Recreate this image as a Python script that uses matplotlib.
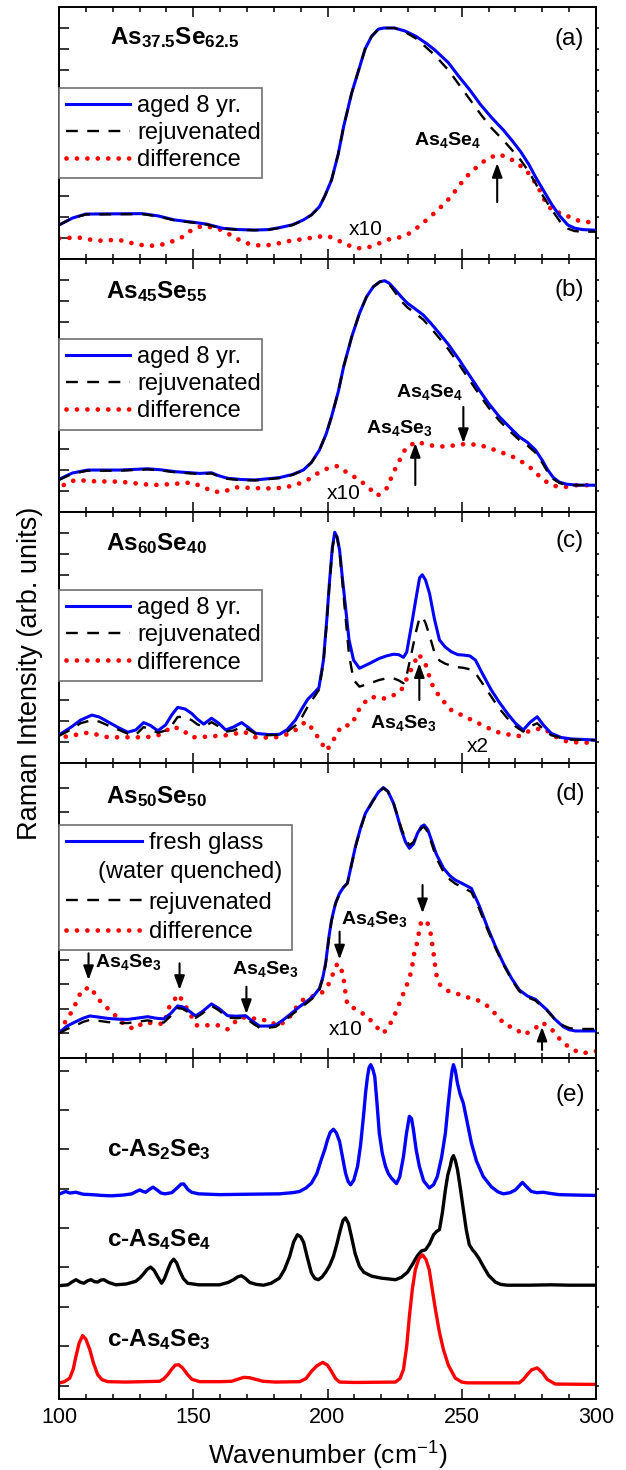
import matplotlib
matplotlib.use('Agg')
import matplotlib.pyplot as plt
from matplotlib.lines import Line2D
from matplotlib.ticker import MultipleLocator

plt.rcParams['font.family'] = ['Liberation Sans', 'DejaVu Sans']
plt.rcParams['mathtext.fontset'] = 'custom'
plt.rcParams['mathtext.rm'] = 'Liberation Sans'
plt.rcParams['mathtext.it'] = 'Liberation Sans:italic'
plt.rcParams['mathtext.bf'] = 'Liberation Sans:bold'

# ---------------- panel (a) As37.5Se62.5 ----------------
wn_a = [100, 105, 110, 120, 131, 137, 143, 150, 155, 161, 167, 173, 178, 182, 187, 191, 194, 197,
        199, 201.5, 204, 206, 209, 212, 214, 216.4, 219, 221, 225, 229, 233, 237, 240, 245, 249,
        253, 257, 261, 265.5, 269, 272, 275, 277.5, 280.5, 283.5, 286.5, 289.5, 292, 295, 300]
aged_a = [1.62, 1.95, 2.14, 2.15, 2.16, 2.05, 1.86, 1.75, 1.66, 1.46, 1.40, 1.38, 1.40, 1.49, 1.63,
          1.86, 2.10, 2.49, 3.00, 3.76, 5.00, 6.30, 7.90, 9.16, 10.0, 10.6, 10.95, 11.0, 11.0, 10.85,
          10.6, 10.25, 9.95, 9.35, 8.68, 8.05, 7.35, 6.75, 6.14, 5.60, 5.10, 4.50, 3.90, 3.25, 2.60,
          2.05, 1.62, 1.47, 1.40, 1.37]
rejuv_a = [1.62, 1.95, 2.12, 2.13, 2.14, 2.03, 1.84, 1.73, 1.64, 1.45, 1.39, 1.37, 1.39, 1.48, 1.62,
           1.85, 2.09, 2.48, 3.00, 3.76, 5.00, 6.30, 7.90, 9.16, 10.0, 10.6, 10.95, 11.0, 11.0, 10.8,
           10.5, 10.05, 9.70, 9.00, 8.30, 7.60, 6.90, 6.25, 5.65, 5.15, 4.70, 4.15, 3.60, 2.95, 2.35,
           1.80, 1.45, 1.33, 1.30, 1.30]
wn_diff_a = [100, 107, 110.7, 114.9, 118.2, 122.6, 126.3, 130.4, 134.2, 137.9, 142, 145.7, 149.4,
             153.1, 156.8, 160.6, 165, 168.8, 172.5, 176.2, 180.7, 184.4, 188.1, 192.6, 196.3, 200,
             203.7, 207.4, 211.1, 214.9, 219.3, 223, 226.8, 230.5, 234.2, 238, 241.7, 245.4, 248.4,
             251.3, 255.1, 258.8, 263.2, 266.9, 270.7, 274.4, 278.1, 281.1, 284.1, 287.8, 291.5,
             295.2, 299.7]
diff_a = [0.98, 1.03, 0.94, 0.87, 0.90, 0.90, 0.78, 0.67, 0.63, 0.67, 0.83, 1.03, 1.38, 1.57, 1.51,
          1.38, 1.06, 0.79, 0.67, 0.63, 0.71, 0.83, 0.90, 0.98, 1.06, 1.10, 0.90, 0.67, 0.51, 0.54,
          0.75, 0.94, 1.03, 1.22, 1.57, 1.98, 2.41, 2.89, 3.37, 3.87, 4.32, 4.71, 4.98, 4.87, 4.56,
          4.16, 3.52, 2.73, 2.25, 2.17, 1.89, 1.78, 1.73]

# ---------------- panel (b) As45Se55 ----------------
wn_b = [100, 105, 110.7, 122.6, 133, 138, 143.5, 152.4, 156.8, 159.5, 162.8, 168, 173.2, 182.1, 187,
        191, 194, 197, 199.5, 201.5, 204, 206, 209, 211.9, 214.5, 217.1, 219.5, 221.3, 223, 225.3,
        227.5, 229.8, 232.5, 235.7, 238.5, 241.7, 245, 249.1, 252.5, 256.5, 260, 264, 268, 271.4,
        274.5, 277.4, 280, 282, 284, 286.3, 289, 292.3, 299.7]
aged_b = [1.55, 1.85, 1.99, 1.99, 2.05, 2.00, 1.91, 1.83, 1.86, 1.72, 1.60, 1.54, 1.52, 1.63, 1.78,
          1.99, 2.35, 2.94, 3.70, 4.52, 5.70, 6.89, 8.30, 9.42, 10.2, 10.69, 10.92, 10.97, 10.85,
          10.53, 10.2, 9.90, 9.65, 9.34, 8.95, 8.47, 7.95, 7.21, 6.55, 5.79, 5.15, 4.52, 4.00, 3.57,
          3.30, 2.95, 2.45, 2.00, 1.65, 1.42, 1.32, 1.28, 1.27]
rejuv_b = [1.52, 1.82, 1.96, 1.96, 2.02, 1.97, 1.88, 1.80, 1.83, 1.69, 1.57, 1.51, 1.50, 1.61, 1.76,
           1.98, 2.34, 2.94, 3.70, 4.52, 5.70, 6.89, 8.30, 9.42, 10.2, 10.69, 10.92, 10.97, 10.80,
           10.40, 10.0, 9.70, 9.45, 9.12, 8.72, 8.24, 7.72, 6.98, 6.33, 5.58, 4.95, 4.33, 3.82, 3.42,
           3.15, 2.82, 2.33, 1.90, 1.57, 1.38, 1.28, 1.27, 1.27]
wn_diff_b = [101.8, 104, 107, 111, 115, 122.6, 127, 134.5, 139, 145.7, 149.4, 153.9, 157.6, 161.3,
             165.8, 170, 176, 180.7, 184.5, 188.1, 192.6, 196.5, 200, 203.7, 207.4, 211.9, 215.6,
             218.6, 222, 225.3, 229.1, 233.2, 237.2, 241, 244.6, 249.1, 252.5, 256.5, 260, 264, 268,
             271.4, 275.9, 280.4, 284, 287.8, 292.3, 299.7]
diff_b = [1.28, 1.45, 1.52, 1.47, 1.45, 1.44, 1.38, 1.28, 1.30, 1.36, 1.40, 1.17, 0.96, 0.96, 1.17,
          1.15, 1.12, 1.12, 1.18, 1.28, 1.52, 1.85, 2.07, 2.18, 1.86, 1.52, 1.12, 0.77, 1.12, 2.07,
          3.02, 3.34, 3.18, 3.12, 3.10, 3.21, 3.22, 3.18, 3.05, 2.86, 2.68, 2.47, 2.07, 1.52, 1.25,
          1.17, 1.27, 1.27]

# ---------------- panel (c) As60Se40 ----------------
wn_c = [100, 104.8, 108, 112.2, 115, 118.2, 122, 125.6, 128.6, 131.5, 134, 136.8, 139.7, 142, 144.2,
        147, 149.4, 151.5, 153.9, 156.8, 159.5, 162.1, 165, 168, 170.5, 173.2, 178, 182.1, 185,
        188.1, 190.5, 192.6, 195, 196.8, 198.5, 199.7, 200.7, 201.8, 202.7, 203.6, 204.5, 205.5,
        206.7, 208, 209.7, 211.9, 215.5, 219.3, 222, 224.6, 226.5, 228.3, 229.5, 231.2, 233, 234.3,
        235.3, 236.5, 238, 239.8, 241.7, 243.8, 246.1, 248.5, 250.6, 253, 255.1, 258, 261, 264, 267,
        270, 272.9, 275.5, 278.1, 280.5, 283.3, 287, 290.8, 299.7]
aged_c = [1.34, 1.74, 2.05, 2.29, 2.20, 1.97, 1.70, 1.47, 1.58, 1.93, 1.80, 1.54, 1.82, 2.30, 2.66,
          2.58, 2.37, 2.10, 1.86, 2.14, 1.90, 1.58, 1.72, 1.93, 1.70, 1.42, 1.36, 1.37, 1.60, 2.06,
          2.60, 3.04, 3.35, 3.60, 4.92, 6.80, 8.59, 10.3, 11.03, 10.8, 10.18, 8.90, 7.47, 5.90, 4.92,
          4.53, 4.75, 5.00, 5.12, 5.20, 5.18, 5.05, 5.30, 6.52, 7.90, 8.85, 9.00, 8.75, 8.11, 6.90,
          5.88, 5.55, 5.32, 5.18, 5.16, 5.12, 4.92, 4.20, 3.49, 2.90, 2.37, 1.90, 1.58, 1.95, 2.21,
          1.80, 1.42, 1.22, 1.15, 1.10]
rejuv_c = [1.30, 1.62, 1.90, 2.05, 1.98, 1.80, 1.60, 1.40, 1.35, 1.72, 1.60, 1.45, 1.55, 1.80, 2.20,
           2.20, 2.05, 1.85, 1.72, 1.95, 1.75, 1.50, 1.55, 1.72, 1.60, 1.40, 1.33, 1.35, 1.50, 1.80,
           2.20, 2.69, 3.15, 3.50, 4.80, 6.70, 8.50, 10.2, 10.98, 10.75, 10.1, 8.70, 7.00, 5.20, 3.97,
           3.65, 3.80, 3.97, 4.05, 4.05, 3.95, 3.81, 4.20, 5.20, 6.30, 6.95, 7.00, 6.70, 6.10, 5.30,
           4.90, 4.75, 4.65, 4.58, 4.55, 4.48, 4.30, 3.75, 3.17, 2.60, 2.14, 1.75, 1.50, 1.75, 1.90,
           1.60, 1.33, 1.20, 1.12, 1.08]
wn_diff_c = [102.5, 106.5, 110.7, 114.5, 118.2, 122, 126, 130.1, 134, 138.2, 142, 145.7, 149.4, 153,
             157, 161.3, 165, 168.8, 173.2, 177, 180.7, 184.5, 188.1, 191.8, 194.8, 197, 199.7, 202.2,
             205.2, 208.9, 212.6, 216.4, 220.1, 223.8, 227.5, 230.5, 233.9, 236.4, 238.7, 241.7,
             246.1, 250.6, 255.1, 258.8, 262.5, 267, 271.4, 275.9, 280.4, 284.9, 289.3, 294, 299]
diff_c = [1.26, 1.35, 1.45, 1.35, 1.23, 1.23, 1.23, 1.23, 1.25, 1.37, 1.74, 1.61, 1.23, 1.24, 1.28,
          1.31, 1.38, 1.50, 1.23, 1.22, 1.23, 1.35, 1.58, 1.97, 1.58, 1.10, 0.59, 1.10, 1.77, 1.82,
          2.77, 3.17, 3.06, 3.17, 3.49, 4.29, 5.21, 4.77, 3.81, 3.17, 2.53, 2.25, 1.97, 1.74, 1.50,
          1.37, 1.29, 1.58, 1.66, 1.26, 1.02, 0.98, 0.97]

# ---------------- panel (d) As50Se50 ----------------
wn_d = [100, 103, 106.3, 109, 111.5, 115, 118.2, 122, 125.6, 129, 133, 136, 139, 141.5, 144.2, 146,
        147.9, 150.9, 153.5, 156.8, 159.5, 162.8, 166, 169.5, 172, 174.7, 178, 180.7, 183.5, 186.6,
        189.5, 192.6, 195, 197, 198.3, 199.3, 200.5, 201.5, 203, 204.5, 206, 207.4, 209, 210.4,
        212.3, 214.1, 217.1, 219, 220.8, 222.5, 224.6, 226, 227.5, 229, 230.5, 232, 233.5, 235, 236,
        237.3, 238.7, 240.5, 243.2, 245.5, 247.6, 250.5, 253.6, 256.5, 259.5, 262.5, 265.5, 268.5,
        271.4, 274.5, 277.4, 279.8, 281.8, 284.5, 287.8, 290, 292.3, 299.7]
fresh_d = [1.02, 1.30, 1.48, 1.62, 1.71, 1.66, 1.61, 1.58, 1.57, 1.62, 1.68, 1.62, 1.59, 1.80, 2.12,
           2.08, 1.96, 1.71, 1.90, 2.20, 2.02, 1.72, 1.70, 1.72, 1.50, 1.30, 1.30, 1.34, 1.55, 1.82,
           2.08, 2.33, 2.55, 2.83, 3.30, 3.85, 4.90, 5.61, 6.30, 6.70, 6.95, 7.11, 7.90, 8.60, 9.35,
           9.95, 10.5, 10.82, 11.0, 10.85, 10.36, 9.85, 9.27, 8.80, 8.53, 8.70, 9.14, 9.42, 9.48, 9.30,
           8.87, 8.30, 7.72, 7.42, 7.24, 7.08, 6.90, 6.20, 5.34, 4.55, 3.85, 3.25, 2.77, 2.52, 2.39,
           2.15, 1.95, 1.60, 1.27, 1.15, 1.10, 1.10]
rejuv_d = [1.00, 1.18, 1.33, 1.47, 1.55, 1.51, 1.46, 1.43, 1.42, 1.47, 1.53, 1.47, 1.44, 1.70, 2.03,
           2.00, 1.88, 1.63, 1.82, 2.12, 1.94, 1.64, 1.62, 1.64, 1.42, 1.23, 1.23, 1.27, 1.48, 1.75,
           2.00, 2.26, 2.48, 2.78, 3.25, 3.80, 4.85, 5.58, 6.28, 6.68, 6.93, 7.10, 7.88, 8.58, 9.33,
           9.93, 10.48, 10.8, 10.98, 10.83, 10.36, 9.88, 9.35, 8.92, 8.66, 8.78, 9.10, 9.35, 9.40,
           9.20, 8.75, 8.15, 7.57, 7.27, 7.09, 6.93, 6.75, 6.07, 5.25, 4.48, 3.80, 3.20, 2.72, 2.47,
           2.34, 2.10, 1.92, 1.60, 1.32, 1.22, 1.18, 1.18]
wn_diff_d = [100.6, 102.5, 105, 108.5, 111.9, 114.1, 117.4, 120.8, 124.1, 127.8, 131.5, 135, 139,
             141.2, 144.5, 147.2, 151.3, 155, 159.1, 162.8, 166.8, 170.4, 174.4, 178, 181.4, 185.1,
             188.1, 191.1, 194.8, 197.8, 200.4, 203.7, 205.7, 206.5, 207.4, 211.2, 214.9, 217.9,
             220.8, 223.1, 225.3, 226.8, 229.8, 231.2, 232.4, 233.5, 234.2, 235, 237.2, 238.4, 239.5,
             240.5, 241.7, 244.6, 248.4, 252.1, 255.8, 259.5, 263.2, 266.2, 269.9, 272.9, 276.6, 280,
             284.1, 287, 290.8, 294.5, 298.2, 300]
diff_d = [1.07, 1.52, 1.92, 2.77, 2.88, 2.45, 2.09, 1.75, 1.38, 1.18, 1.44, 1.42, 1.38, 2.12, 2.59,
          2.09, 1.33, 1.33, 1.33, 1.17, 1.60, 1.68, 1.54, 1.54, 1.30, 1.54, 2.02, 2.39, 2.52, 2.64,
          3.00, 3.85, 3.47, 2.80, 2.16, 1.95, 1.68, 1.30, 1.00, 1.34, 1.82, 2.23, 3.04, 3.51, 4.33,
          4.73, 5.21, 5.59, 5.51, 5.07, 4.26, 3.41, 3.00, 2.74, 2.61, 2.47, 2.36, 2.12, 1.72, 1.34,
          1.21, 0.94, 1.14, 1.45, 1.10, 0.70, 0.37, 0.19, 0.24, 0.28]

# ---------------- panel (e) crystals ----------------
wn_as2se3 = [100.3, 102.5, 104, 106.3, 109, 112.2, 116, 119.6, 124, 127.1, 128.8, 130.1, 131.3, 132.3,
             133.6, 135, 136.5, 138, 139.5, 142, 144, 145.5, 146.5, 148, 149.4, 152, 159.8, 170, 182.1,
             187, 189.6, 192, 194, 196, 197.5, 199, 200, 201, 202.2, 203.3, 204.5, 205.6, 206.7, 207.7,
             208.6, 209.8, 211.2, 212.3, 213.4, 214.2, 214.9, 215.5, 216.1, 216.8, 217.6, 218.4, 219.3,
             220.4, 221.6, 222.7, 223.8, 225.7, 226.9, 228.3, 229.4, 230.5, 231.3, 232, 233, 234.2,
             235.8, 237.9, 239.5, 240.9, 242.5, 243.9, 244.9, 245.8, 246.4, 246.9, 247.6, 248.4, 249.4,
             250.6, 252, 253.6, 255.5, 258, 261, 263.5, 265.5, 268, 270, 271.5, 272.6, 274, 275.9, 278,
             280.4, 283, 286.3, 292, 299.7]
as2se3 = [4.87, 4.93, 4.89, 4.91, 4.86, 4.85, 4.83, 4.82, 4.84, 4.87, 4.93, 4.97, 4.93, 4.91, 4.98,
          5.04, 4.97, 4.89, 4.87, 4.90, 5.02, 5.12, 5.12, 4.98, 4.91, 4.87, 4.85, 4.86, 4.87, 4.90,
          4.93, 5.02, 5.14, 5.38, 5.70, 6.00, 6.24, 6.43, 6.51, 6.42, 6.20, 5.80, 5.40, 5.18, 5.10,
          5.22, 5.57, 6.10, 6.84, 7.45, 7.85, 8.08, 8.15, 8.05, 7.85, 7.20, 6.41, 5.90, 5.57, 5.38,
          5.27, 5.13, 5.30, 5.82, 6.40, 6.84, 6.78, 6.50, 6.00, 5.57, 5.20, 5.02, 5.10, 5.31, 5.80,
          6.41, 7.10, 7.68, 8.00, 8.15, 8.00, 7.68, 7.40, 7.17, 6.70, 6.16, 5.70, 5.31, 5.05, 4.92,
          4.87, 4.90, 4.97, 5.08, 5.16, 5.06, 4.93, 4.90, 4.91, 4.88, 4.85, 4.84, 4.83]
wn_as4se4 = [100.3, 102, 103.3, 104.8, 106.3, 107.8, 109.2, 110.6, 111.9, 113.2, 114.4, 115.6, 116.7,
             118.5, 121.1, 125, 128.6, 130.2, 131.5, 132.8, 134.1, 135.4, 136.8, 138.2, 139.3, 140.5,
             141.6, 142.7, 143.8, 144.9, 146.3, 147.9, 152, 159.8, 163, 165, 166.5, 167.9, 169.5, 171,
             173.5, 176.2, 179, 182.1, 184, 185.9, 187.4, 188.8, 190, 191.1, 192.5, 194, 195.3, 196.6,
             198, 199.3, 200.8, 202.2, 203.5, 204.8, 205.8, 206.7, 207.8, 208.9, 210.3, 211.9, 213.5,
             216.4, 220, 225.3, 227.5, 229.8, 231.8, 233.5, 235, 236.5, 238, 239.5, 240.7, 241.7,
             242.8, 243.9, 244.8, 245.7, 246.3, 246.9, 247.6, 248.4, 249.5, 250.6, 251.7, 252.8, 254,
             255.1, 256.5, 258, 260, 262.5, 264.5, 267, 275, 283.3, 290, 299.7]
as4se4 = [2.54, 2.55, 2.56, 2.63, 2.69, 2.63, 2.60, 2.66, 2.69, 2.64, 2.63, 2.68, 2.69, 2.62, 2.56,
          2.58, 2.65, 2.74, 2.84, 2.95, 3.01, 2.93, 2.76, 2.60, 2.72, 2.94, 3.12, 3.21, 3.12, 2.92,
          2.72, 2.60, 2.56, 2.56, 2.62, 2.69, 2.76, 2.79, 2.72, 2.62, 2.57, 2.55, 2.60, 2.73, 2.95,
          3.28, 3.65, 3.83, 3.78, 3.64, 3.25, 2.86, 2.72, 2.69, 2.76, 2.88, 3.05, 3.28, 3.60, 3.96,
          4.20, 4.26, 4.12, 3.79, 3.35, 3.03, 2.88, 2.78, 2.73, 2.69, 2.75, 2.88, 3.10, 3.30, 3.42,
          3.45, 3.60, 3.83, 3.92, 3.96, 4.40, 4.97, 5.35, 5.57, 5.76, 5.84, 5.72, 5.49, 5.00, 4.47,
          3.95, 3.58, 3.45, 3.36, 3.22, 3.03, 2.80, 2.63, 2.57, 2.55, 2.55, 2.56, 2.55, 2.55]
wn_as4se3 = [100.3, 102, 104, 105.3, 106.3, 107.5, 108.8, 110, 111.5, 112.8, 114.4, 116, 118.2, 125,
             137.5, 139, 140.5, 142, 143.3, 144.6, 146, 147.9, 149.5, 152.4, 160, 164.3, 166.5, 168.8,
             171, 173.2, 176, 180.7, 189.6, 192, 194, 196, 198.2, 200, 201.5, 203, 204.5, 210, 225.3,
             227, 228.3, 229.5, 230.5, 231.6, 232.7, 234, 235.4, 236.7, 237.9, 239, 240.2, 241.7,
             243.2, 245, 247.6, 250, 252.1, 271.4, 273, 274.4, 276, 278.1, 280, 281.8, 284.8, 299.7]
as4se3 = [0.07, 0.10, 0.19, 0.42, 0.74, 1.08, 1.27, 1.18, 0.91, 0.58, 0.28, 0.15, 0.10, 0.09, 0.11,
          0.17, 0.28, 0.42, 0.52, 0.53, 0.45, 0.28, 0.16, 0.10, 0.10, 0.11, 0.16, 0.21, 0.20, 0.16,
          0.11, 0.09, 0.10, 0.18, 0.36, 0.50, 0.59, 0.52, 0.36, 0.18, 0.09, 0.08, 0.09, 0.18, 0.41,
          1.00, 1.76, 2.45, 2.94, 3.22, 3.32, 3.20, 2.94, 2.45, 1.93, 1.35, 0.91, 0.52, 0.19, 0.09,
          0.07, 0.07, 0.16, 0.28, 0.40, 0.45, 0.33, 0.16, 0.04, 0.03]

legend_labels = ['aged 8 yr.', 'rejuvenated', 'difference']
legend_labels_d = ['fresh glass', ' ', 'rejuvenated', 'difference']

BLUE = '#0000ff'
RED = '#ff0000'
DASH = (0, (5, 4))
DOT = (0, (0.01, 2.2))


def style_axis(ax, yticks, ylim, bottom_labels=False):
    ax.set_xlim(100, 300)
    ax.set_ylim(*ylim)
    ax.set_xticks([100, 150, 200, 250, 300])
    ax.xaxis.set_minor_locator(MultipleLocator(10))
    ax.set_yticks(yticks)
    ax.tick_params(axis='x', which='major', direction='in', length=7, width=1.1,
                   top=True, bottom=True, labelbottom=bottom_labels, labelsize=15.5, pad=6)
    ax.tick_params(axis='x', which='minor', direction='in', length=3.5, width=1.1,
                   top=True, bottom=True)
    ax.tick_params(axis='y', which='major', direction='in', length=7, width=1.1,
                   left=True, right=False, labelleft=False)
    sec = ax.secondary_yaxis('right')
    sec.set_yticks(yticks)
    sec.tick_params(direction='out', length=2.5, width=1.1, labelright=False)
    sec.spines['right'].set_linewidth(1.4)
    for sp in ax.spines.values():
        sp.set_linewidth(1.4)


def glass_panel(ax, wn, top, bottom, wn_diff, diff, labels, leg_top, leg_width,
                handlelength=2.7, labelspacing=0.22):
    ax.plot(wn, top, color=BLUE, lw=2.2, zorder=3)
    ax.plot(wn, bottom, color='k', lw=1.7, ls=DASH, zorder=4)
    ax.plot(wn_diff, diff, color=RED, lw=3.4, ls=DOT, dash_capstyle='round', zorder=2)
    handles = [Line2D([], [], color=BLUE, lw=2.2),
               Line2D([], [], color='k', lw=1.7, ls=DASH),
               Line2D([], [], color=RED, lw=3.4, ls=DOT, dash_capstyle='round')]
    if len(labels) == 4:
        handles.insert(1, Line2D([], [], color='none'))
    leg = ax.legend(handles, labels, loc='upper left', bbox_to_anchor=(0, leg_top, leg_width, 0),
                    mode='expand', borderaxespad=0, fontsize=17, handlelength=handlelength,
                    handletextpad=0.3, borderpad=0.3, labelspacing=labelspacing,
                    fancybox=False, framealpha=1, edgecolor='#707070')
    leg.get_frame().set_linewidth(1.2)
    return leg


def arrow(ax, x, y_tail, y_tip):
    ax.annotate('', xy=(x, y_tip), xytext=(x, y_tail),
                arrowprops=dict(arrowstyle='-|>,head_length=0.6,head_width=0.22', color='k',
                                lw=1.5, mutation_scale=14, shrinkA=0, shrinkB=0))


def note(ax, x, y, s, size=14):
    ax.text(x, y, s, fontsize=size, ha='left', va='baseline')


fig = plt.figure(figsize=(6.26, 14.7), dpi=100)
gs = fig.add_gridspec(5, 1, height_ratios=[252, 253, 251, 295, 341], hspace=0,
                      left=59 / 626, right=596 / 626, top=1 - 7 / 1470, bottom=1 - 1399 / 1470)
axes = [fig.add_subplot(gs[i]) for i in range(5)]
ax_a, ax_b, ax_c, ax_d, ax_e = axes

glass_ticks = list(range(1, 12))

# (a)
style_axis(ax_a, glass_ticks, (0, 12))
glass_panel(ax_a, wn_a, aged_a, rejuv_a, wn_diff_a, diff_a, legend_labels, 0.679, 0.378)
ax_a.text(119.0, 10.22, r'$\mathbf{As_{37.5}Se_{62.5}}$', fontsize=17.5, va='baseline')
ax_a.text(295.5, 10.5, '(a)', fontsize=17.5, ha='right', va='center')
note(ax_a, 232.2, 5.43, r'$\mathbf{As_4Se_4}$')
arrow(ax_a, 263.2, 2.71, 4.57)
ax_a.text(214.1, 1.41, 'x10', fontsize=15, ha='center', va='center')

# (b)
style_axis(ax_b, glass_ticks, (0, 12))
glass_panel(ax_b, wn_b, aged_b, rejuv_b, wn_diff_b, diff_b, legend_labels, 0.684, 0.378)
ax_b.text(117.5, 10.14, r'$\mathbf{As_{45}Se_{55}}$', fontsize=17.5, va='baseline')
ax_b.text(295.5, 10.53, '(b)', fontsize=17.5, ha='right', va='center')
note(ax_b, 225.5, 5.47, r'$\mathbf{As_4Se_4}$')
arrow(ax_b, 250.6, 4.98, 3.27)
note(ax_b, 214.3, 3.76, r'$\mathbf{As_4Se_3}$')
arrow(ax_b, 232.7, 1.28, 3.27)
ax_b.text(206, 0.89, 'x10', fontsize=15, ha='center', va='center')

# (c)
style_axis(ax_c, glass_ticks, (0, 12))
glass_panel(ax_c, wn_c, aged_c, rejuv_c, wn_diff_c, diff_c, legend_labels, 0.689, 0.378)
ax_c.text(117.5, 10.18, r'$\mathbf{As_{60}Se_{40}}$', fontsize=17.5, va='baseline')
ax_c.text(295.5, 10.62, '(c)', fontsize=17.5, ha='right', va='center')
note(ax_c, 215.8, 1.66, r'$\mathbf{As_4Se_3}$')
arrow(ax_c, 234.2, 3.01, 4.77)
ax_c.text(256, 0.78, 'x2', fontsize=15, ha='center', va='center')

# (d)
style_axis(ax_d, glass_ticks, (0, 12))
glass_panel(ax_d, wn_d, fresh_d, rejuv_d, wn_diff_d, diff_d, legend_labels_d, 0.79, 0.434,
            handlelength=3.2, labelspacing=0.33)
ax_d.text(0.244, 0.6305, '(water quenched)', fontsize=17, ha='center', va='center',
          transform=ax_d.transAxes, zorder=10)
ax_d.text(117.5, 10.36, r'$\mathbf{As_{50}Se_{50}}$', fontsize=17.5, va='baseline')
ax_d.text(296.0, 10.74, '(d)', fontsize=17.5, ha='right', va='center')
arrow(ax_d, 111.0, 4.26, 3.17)
note(ax_d, 113.4, 3.71, r'$\mathbf{As_4Se_3}$')
arrow(ax_d, 144.9, 3.85, 2.77)
note(ax_d, 164.6, 3.42, r'$\mathbf{As_4Se_3}$')
arrow(ax_d, 169.8, 2.90, 1.79)
note(ax_d, 205.2, 5.45, r'$\mathbf{As_4Se_3}$')
arrow(ax_d, 204.5, 5.14, 4.01)
arrow(ax_d, 235.4, 7.04, 5.89)
arrow(ax_d, 279.9, 0.33, 1.27)
ax_d.text(206.8, 1.14, 'x10', fontsize=15, ha='center', va='center')

# (e)
style_axis(ax_e, list(range(0, 9)), (-0.34, 8.32), bottom_labels=True)
ax_e.plot(wn_as2se3, as2se3, color=BLUE, lw=2.4)
ax_e.plot(wn_as4se4, as4se4, color='k', lw=2.4)
ax_e.plot(wn_as4se3, as4se3, color=RED, lw=2.4)
ax_e.text(117.9, 5.84, r'$\mathbf{c}$-$\mathbf{As_2Se_3}$', fontsize=17.5, va='baseline',
          fontweight='bold')
ax_e.text(117.9, 3.54, r'$\mathbf{c}$-$\mathbf{As_4Se_4}$', fontsize=17.5, va='baseline',
          fontweight='bold')
ax_e.text(117.9, 1.00, r'$\mathbf{c}$-$\mathbf{As_4Se_3}$', fontsize=17.5, va='baseline',
          fontweight='bold')
ax_e.text(296.0, 7.37, '(e)', fontsize=17.5, ha='right', va='center')
ax_e.set_xlabel(r'Wavenumber (cm$^{-1}$)', fontsize=19, labelpad=8)

fig.text(30 / 626, 1 - 673 / 1470, 'Raman Intensity (arb. units)', rotation=90,
         fontsize=19.5, ha='center', va='center')

fig.savefig('out.png', dpi=100)
